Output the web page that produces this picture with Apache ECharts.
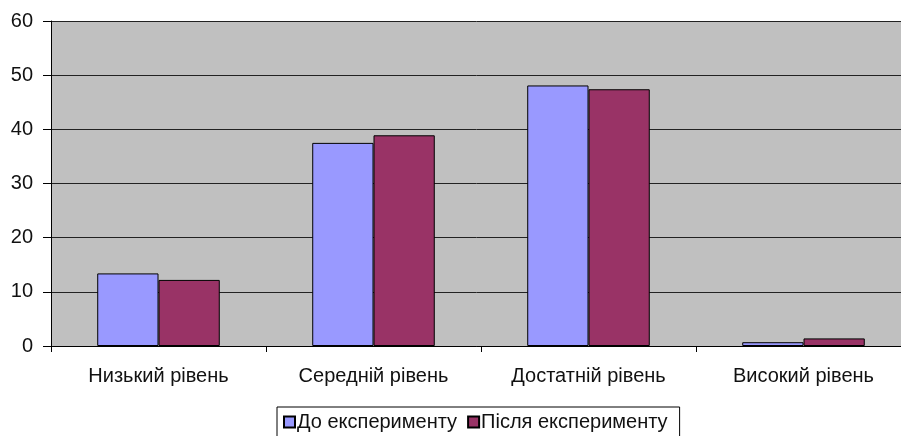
<!DOCTYPE html>
<html>
<head>
<meta charset="utf-8">
<script src="https://cdn.jsdelivr.net/npm/echarts@6/dist/echarts.min.js"></script>
<style>html,body{margin:0;padding:0;background:#fff;}#c{width:901px;height:436px;}</style>
</head>
<body>
<div id="c"></div>
<script>
var categories = ['Низький рівень', 'Середній рівень', 'Достатній рівень', 'Високий рівень'];
var seriesNames = ['До експерименту', 'Після експерименту'];
var before = [13.4, 37.5, 48.1, 0.7];
var after = [12.2, 38.9, 47.4, 1.4];
var yTicks = [0, 10, 20, 30, 40, 50, 60];

var chart = echarts.init(document.getElementById('c'), null, {renderer: 'canvas'});
var font = 'Liberation Sans, Arial, sans-serif';
chart.setOption({
  animation: false,
  textStyle: {fontFamily: font},
  grid: {left: 51, top: 21, width: 860, height: 325, outerBoundsMode: 'none', containLabel: false,
         show: true, backgroundColor: '#C0C0C0', borderWidth: 0},
  legend: {
    data: seriesNames,
    top: 407, left: 277,
    itemWidth: 11, itemHeight: 11, itemGap: 10,
    padding: [5, 12, 20, 6],
    borderColor: '#000', borderWidth: 1, backgroundColor: '#fff',
    textStyle: {fontSize: 20, color: '#111', fontFamily: font, padding: [0, 0, 0, -3]},
    icon: 'rect'
  },
  xAxis: {
    type: 'category',
    data: categories,
    axisLine: {lineStyle: {color: '#000', width: 1}},
    axisTick: {show: true, length: 6, lineStyle: {color: '#000'}},
    axisLabel: {fontSize: 20, color: '#111', margin: 20, fontFamily: font}
  },
  yAxis: {
    type: 'value', min: yTicks[0], max: yTicks[yTicks.length - 1], interval: 10,
    axisLine: {show: true, lineStyle: {color: '#000', width: 1}},
    axisTick: {show: true, length: 8, lineStyle: {color: '#000'}},
    axisLabel: {fontSize: 20, color: '#111', margin: 18, fontFamily: font},
    splitLine: {show: true, lineStyle: {color: '#222', width: 1}}
  },
  series: [
    {name: seriesNames[0], type: 'bar', data: before, barGap: '0%', barCategoryGap: '43%',
     itemStyle: {color: '#9999FF', borderColor: '#000', borderWidth: 1}},
    {name: seriesNames[1], type: 'bar', data: after, barGap: '0%', barCategoryGap: '43%',
     itemStyle: {color: '#993366', borderColor: '#000', borderWidth: 1}}
  ]
});
</script>
</body>
</html>
